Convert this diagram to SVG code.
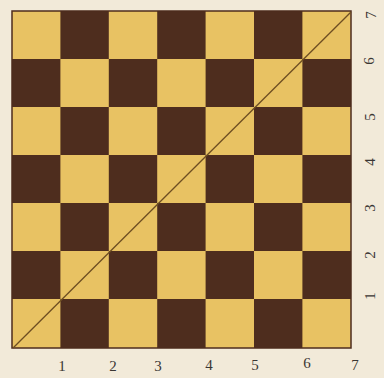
<svg xmlns="http://www.w3.org/2000/svg" width="384" height="378" viewBox="0 0 384 378">
<style>
.y{fill:#E8C263}
.d{fill:#4E2D1E}
.lbl{font-family:"Liberation Serif",serif;font-size:15px;fill:#3a3633;text-anchor:middle;dominant-baseline:central}
</style>
<rect width="384" height="378" fill="#F2EAD9"/>
<g id="board">
<rect x="12" y="11" width="339" height="337" fill="#4E2D1E"/>
<g id="row0">
<rect class="y" x="12" y="11" width="48.4" height="48"/>
<rect class="y" x="108.8" y="11" width="48.4" height="48"/>
<rect class="y" x="205.6" y="11" width="48.4" height="48"/>
<rect class="y" x="302.4" y="11" width="48.6" height="48"/>
</g>
<g id="row1">
<rect class="y" x="60.4" y="59" width="48.4" height="48"/>
<rect class="y" x="157.2" y="59" width="48.4" height="48"/>
<rect class="y" x="254" y="59" width="48.4" height="48"/>
</g>
<g id="row2">
<rect class="y" x="12" y="107" width="48.4" height="48"/>
<rect class="y" x="108.8" y="107" width="48.4" height="48"/>
<rect class="y" x="205.6" y="107" width="48.4" height="48"/>
<rect class="y" x="302.4" y="107" width="48.6" height="48"/>
</g>
<g id="row3">
<rect class="y" x="60.4" y="155" width="48.4" height="48"/>
<rect class="y" x="157.2" y="155" width="48.4" height="48"/>
<rect class="y" x="254" y="155" width="48.4" height="48"/>
</g>
<g id="row4">
<rect class="y" x="12" y="203" width="48.4" height="48"/>
<rect class="y" x="108.8" y="203" width="48.4" height="48"/>
<rect class="y" x="205.6" y="203" width="48.4" height="48"/>
<rect class="y" x="302.4" y="203" width="48.6" height="48"/>
</g>
<g id="row5">
<rect class="y" x="60.4" y="251" width="48.4" height="48"/>
<rect class="y" x="157.2" y="251" width="48.4" height="48"/>
<rect class="y" x="254" y="251" width="48.4" height="48"/>
</g>
<g id="row6">
<rect class="y" x="12" y="299" width="48.4" height="49"/>
<rect class="y" x="108.8" y="299" width="48.4" height="49"/>
<rect class="y" x="205.6" y="299" width="48.4" height="49"/>
<rect class="y" x="302.4" y="299" width="48.6" height="49"/>
</g>
<rect x="12" y="11" width="339" height="337" fill="none" stroke="#4E2D1E" stroke-width="1.5"/>
</g>
<g id="connectors">
<line x1="13" y1="348" x2="351" y2="12" stroke="#6E4E22" stroke-width="1.3"/>
</g>
<g id="bottom-labels">
<text class="lbl" x="62" y="366">1</text>
<text class="lbl" x="113" y="366">2</text>
<text class="lbl" x="158" y="366">3</text>
<text class="lbl" x="209" y="365">4</text>
<text class="lbl" x="255" y="365">5</text>
<text class="lbl" x="307" y="363">6</text>
<text class="lbl" x="355" y="365">7</text>
</g>
<g id="right-labels">
<text class="lbl" transform="translate(371,15) rotate(-90)">7</text>
<text class="lbl" transform="translate(369,61) rotate(-90)">6</text>
<text class="lbl" transform="translate(370,117) rotate(-90)">5</text>
<text class="lbl" transform="translate(370,162) rotate(-90)">4</text>
<text class="lbl" transform="translate(370,208) rotate(-90)">3</text>
<text class="lbl" transform="translate(370,255) rotate(-90)">2</text>
<text class="lbl" transform="translate(370,296) rotate(-90)">1</text>
</g>
</svg>
